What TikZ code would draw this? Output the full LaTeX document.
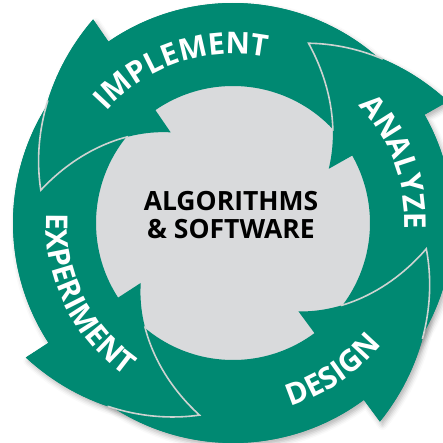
\documentclass[tikz,border=0pt]{standalone}
\usepackage{fontspec}
\setsansfont{Open Sans}
\usetikzlibrary{decorations.text,shadows.blur}
\definecolor{cyclegreen}{RGB}{0,137,114}
\definecolor{hubgray}{RGB}{217,218,220}
\definecolor{seamgray}{RGB}{206,211,209}
\tikzset{
  cyc/.style={fill=cyclegreen},
  cycshadow/.style={fill=cyclegreen, blur shadow={shadow xshift=2.5pt, shadow yshift=-3.5pt, shadow blur radius=5pt, shadow opacity=30}},
  seam/.style={draw=seamgray, line width=1.6pt, line join=miter},
  bandtext/.style={decorate, decoration={text along path, text align=center, text color=white}}
}
% whole arrow: #1 style, #2 tail angle, #3 barb angle, #4 tip angle
\newcommand\ArWhole[4]{%
  \path[#1] (#2:220) arc[start angle=#2, end angle=#3, radius=220] -- (#3:247)
    -- plot[domain=0:1,samples=30] ({#3+(#4-#3)*\x}:{247-52*\x})
    -- plot[domain=0:1,samples=30] ({#4-(#4-#3)*\x}:{110+85*(0.8*(1-\x)+0.2*(1-\x)*(1-\x))})
    -- (#3:137) arc[start angle=#3, end angle=#2, radius=137] -- cycle;}
\newcommand\ArBody[3]{%
  \pgfmathsetmacro\ArEnd{#3+2}%
  \path[#1] (#2:220) arc[start angle=#2, end angle=\ArEnd, radius=220] -- (\ArEnd:137)
    arc[start angle=\ArEnd, end angle=#2, radius=137] -- cycle;}
\newcommand\ArHead[3]{%
  \path[#1] (#2:220) -- (#2:247)
    -- plot[domain=0:1,samples=30] ({#2+(#3-#2)*\x}:{247-52*\x})
    -- plot[domain=0:1,samples=30] ({#3-(#3-#2)*\x}:{110+85*(0.8*(1-\x)+0.2*(1-\x)*(1-\x))})
    -- (#2:137) -- cycle;}
\newcommand\ArSeam[2]{%
  \path[seam] plot[domain=0.48:1,samples=20] ({#1+(#2-#1)*\x}:{247-52*\x})
    -- plot[domain=0:0.65,samples=20] ({#2-(#2-#1)*\x}:{110+85*(0.8*(1-\x)+0.2*(1-\x)*(1-\x))});}
\newcommand\bandfont{\sffamily\bfseries\fontsize{30}{32}\selectfont}
\begin{document}
\begin{tikzpicture}[x=1pt,y=1pt]
\useasboundingbox (0,0) rectangle (443,442);
\clip (0,0) rectangle (443,442);
\begin{scope}[shift={(233,219)}]
  % shadows
  \ArWhole{cycshadow}{40}{124.5}{170.3}
  \ArWhole{cycshadow}{134.5}{213}{260.1}
  \ArWhole{cycshadow}{223}{306.5}{352.4}
  \ArWhole{cycshadow}{316.5}{389.5}{427.2}
  % hub
  \fill[hubgray] (0,0) circle[radius=150];
  % bodies
  \ArBody{cyc}{40}{124.5}
  \ArBody{cyc}{134.5}{213}
  \ArBody{cyc}{223}{306.5}
  \ArBody{cyc}{316.5}{389.5}
  % heads
  \ArHead{cyc}{124.5}{170.3}
  \ArHead{cyc}{213}{260.1}
  \ArHead{cyc}{306.5}{352.4}
  \ArHead{cyc}{389.5}{427.2}
  % seams
  \ArSeam{124.5}{170.3}
  \ArSeam{213}{260.1}
  \ArSeam{306.5}{352.4}
  \ArSeam{389.5}{427.2}
  % band labels
  \path[bandtext, decoration={text={|\bandfont|IMPLEMENT}}]
    (178.5:169) arc[start angle=178.5, end angle=38.5, radius=169];
  \path[bandtext, decoration={text={|\bandfont|ANALYZE}}]
    (90.5:172) arc[start angle=90.5, end angle=-49.5, radius=172];
  \path[bandtext, decoration={text={|\bandfont|DESIGN}}]
    (234:192) arc[start angle=234, end angle=374, radius=192];
  \path[bandtext, decoration={text={|\bandfont|EXPERIMENT}}]
    (136:187) arc[start angle=136, end angle=276, radius=187];
\end{scope}
\node[font=\sffamily\bfseries\fontsize{26.5}{28}\selectfont, align=center, inner sep=0pt] (hub) at (231,227) {ALGORITHMS\\\& SOFTWARE};
\end{tikzpicture}
\end{document}
